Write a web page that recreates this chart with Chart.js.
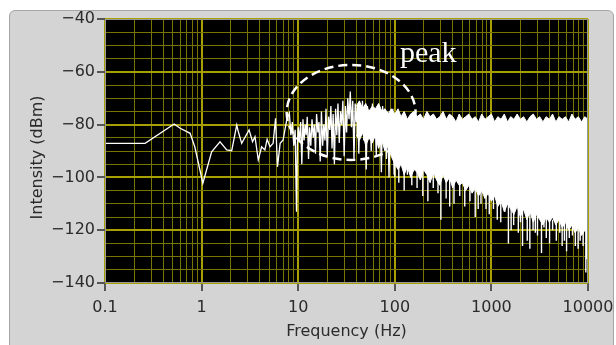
<!DOCTYPE html>
<html><head><meta charset="utf-8">
<script src="https://cdn.jsdelivr.net/npm/chart.js@4.4.0/dist/chart.umd.min.js"></script>
<style>
html,body{margin:0;padding:0;background:#fff;}
#wrap{position:relative;width:616px;height:345px;overflow:hidden;}
#panel{position:absolute;left:9px;top:10px;width:605px;height:400px;background:#d4d4d4;border:1px solid #a6a6a6;border-radius:6px;box-sizing:border-box;}
canvas{position:absolute;left:0;top:0;}
</style></head><body>
<div id="wrap"><div id="panel"></div><canvas id="c" width="616" height="345"></canvas></div>
<script>
// ---- data ----
const lowFreq = [0.1,0.26,0.52,0.6,0.76,0.85,1.03,1.27,1.55,1.82,2.05,2.31,2.4,2.6,3.1,3.37,3.57,3.86,4.18,4.52,4.77,5.1,5.5,5.83,6.1,6.5,6.98,7.6,8.1,
  8.4,8.7,9.0,9.3,9.6,9.8,10.0,10.3,10.6,10.9,11.2,11.5,11.8,12.1,12.4,12.8,13.1,13.5,13.9,14.3,14.7,15.1,15.5,16.0,16.4,16.9,17.4,17.9,18.4,18.9,19.4,
  20.0,20.6,21.2,21.8,22.4,23.0,23.7,24.4,25.1,25.8,26.6,27.4,28.2,29.0,29.9,30.8,31.7,32.6,33.6,34.6,35.6,36.7,37.8,38.9,40.0,41.2,42.4,43.7,45.0,46.3,
  47.7,49.1,50.6,52.1,53.7,55.3,57.0,58.7,60.5,62.4,64.3,66.3,68.3,70.4,72.6,74.8,77.1,79.5,82,84.5,87.1,89.8,92.6,95.4,98.4,101];
const lowVal = [-87.1,-87.1,-79.8,-81.4,-83.3,-88.4,-102.2,-90.3,-86.5,-89.6,-89.9,-80.2,-82.7,-87.1,-82,-86.5,-84.6,-93.4,-88.4,-89.6,-85.6,-88.4,-87.1,-77.6,-96,-87.1,-85.8,-78.3,-75.7,
  -84,-79,-88,-82,-113,-88,-81,-86,-79,-95,-78,-86,-80,-84,-77,-93,-81,-88,-78,-85,-80,-91,-76,-83,-79,-94,-75,-88,-80,-86,-74,
  -92,-77,-82,-73,-89,-76,-95,-74,-84,-72,-87,-75,-80,-71,-92,-73,-83,-70,-78,-67.5,-81,-71,-93,-72,-79,-73,-91,-72,-84,-71,
  -86,-74,-97,-73,-82,-75,-90,-72,-85,-76,-92,-74,-83,-75,-98,-73,-87,-76,-93,-75,-100,-77,-88,-74,-99,-80];

const bandFreq = [40,43,46.4,50,54,58.5,63,68,73.5,79,85.5,92,100,108,116,125,135,146,158,170,184,198,215,232,251,271,292,316,341,368,
  398,430,464,501,541,584,631,681,736,794,858,926,1000,1080,1166,1259,1360,1468,1585,1711,1848,1995,2154,2326,2512,2712,2929,3162,3415,3687,
  3981,4299,4642,5012,5412,5843,6310,6813,7356,7943,8577,9261,10000];
const bandTop = [-73,-71,-74,-72,-75,-73,-74,-72,-75,-74,
  -76,-74,-76,-74,-77,-75,-78,-76,-75,-77,
  -76,-78,-75,-77,-76,-78,-77,-75,-78,-76,
  -77,-79,-76,-78,-77,-76,-78,-77,-79,-76,
  -78,-77,-76,-79,-77,-78,-76,-79,-77,-78,
  -76,-78,-77,-79,-77,-76,-78,-77,-79,-77,
  -78,-76,-79,-77,-78,-77,-79,-76,-78,-77,
  -79,-77,-78];
const bandBottom = [-84,-86,-83,-88,-85,-87,-84,-89,-86,-90,-88,-92,-95,
  -97,-95,-99,-96,-100,-97,-98,-101,-97,
  -99,-102,-98,-101,-103,-99,-102,-100,-104,-101,-103,
  -102,-105,-103,-106,-104,-107,-105,-108,-106,
  -109,-107,-111,-109,-113,-110,-112,-114,-111,
  -115,-112,-116,-113,-117,-114,-116,-118,-115,
  -117,-115,-118,-116,-119,-117,-120,-118,-121,-119,-122,-120,-123];

const spikeFreq = [100,110,125,135,150,170,195,220,250,280,300,340,370,410,470,530,600,680,730,780,880,950,
  1050,1150,1250,1380,1500,1600,1700,1900,2000,2100,2350,2500,2700,2850,3000,3300,3500,3700,
  4000,4300,4700,5100,5400,5700,6000,6400,6900,7400,7900,8300,8900,9500,9800];
const spikeTop = [-93,-94,-95,-95,-96,-96,-97,-98,-98,-99,-99,-100,-100,-100,-101,-103,-103,-104,-104,-105,-105,-106,
  -107,-107,-108,-109,-110,-110,-111,-112,-112,-112,-113,-113,-113,-114,-114,-115,-115,-115,
  -116,-116,-116,-116,-117,-117,-117,-118,-118,-119,-119,-120,-120,-121,-121];
const spikeDepth = [-100,-102,-105,-99,-103,-104,-107,-109,-104,-106,-116,-108,-111,-110,-107,-111,-109,-115,-112,-110,-112,-114,
  -112,-116,-117,-113,-125,-120,-118,-121,-117,-126,-124,-127,-120,-121,-122,-128.6,-119,-123,
  -125,-120,-124,-121,-126,-124,-128,-123,-122,-126,-127,-124,-126,-136,-131];

const xTickValues = [0.1,1,10,100,1000,10000];
const xTickLabels = ['0.1','1','10','100','1000','10000'];
const yTickValues = [-140,-120,-100,-80,-60,-40];
const yTickLabels = ['\u2212140','\u2212120','\u2212100','\u221280','\u221260','\u221240'];
const xTitle = 'Frequency (Hz)';
const yTitle = 'Intensity (dBm)';

const peakNote = {text:'peak', fLeft:7.6, fRight:164, dbTop:-57.4, dbBottom:-93.4, textF:113, textDb:-56.3};

// ---- build structures ----
const pts = (xs, ys) => xs.map((x,i)=>({x, y:ys[i]}));
const spikeData = [];
spikeFreq.forEach((f,i)=>{ spikeData.push({x:f,y:spikeTop[i]},{x:f,y:spikeDepth[i]},{x:f,y:null}); });

const xGrid = [];
for (let d=0; d<xTickValues.length; d++) {
  const base = xTickValues[d];
  xGrid.push(base);
  if (d < xTickValues.length-1) for (let m=2; m<=9; m++) xGrid.push(+(base*m).toPrecision(6));
}
const yGrid = [];
for (let v=yTickValues[0]; v<=yTickValues[yTickValues.length-1]; v+=5) yGrid.push(v);

const isXMajor = v => xTickValues.some(t => Math.abs(t - v) < t*1e-6);
const isYMajor = v => yTickValues.includes(v);

const minorGrid = 'rgb(120,116,0)';
const majorGrid = 'rgb(168,160,0)';
const labelColor = '#2b2b2b';
const font16 = {family:'DejaVu Sans', size:16};

const bgPlugin = {id:'bg', beforeDraw(chart){
  const {ctx, chartArea:a} = chart;
  ctx.save(); ctx.fillStyle = '#000'; ctx.fillRect(a.left, a.top, a.right-a.left, a.bottom-a.top); ctx.restore();
}};
const peakPlugin = {id:'peak', afterDatasetsDraw(chart){
  const {ctx, chartArea:a, scales:{x, y}} = chart;
  ctx.save();
  ctx.strokeStyle = '#9a9a9a'; ctx.lineWidth = 1;
  ctx.strokeRect(a.left+0.5, a.top+0.5, a.right-a.left-1, a.bottom-a.top-1);
  const l = x.getPixelForValue(peakNote.fLeft), r = x.getPixelForValue(peakNote.fRight);
  const t = y.getPixelForValue(peakNote.dbTop), b = y.getPixelForValue(peakNote.dbBottom);
  ctx.strokeStyle = '#fff'; ctx.lineWidth = 2.5; ctx.setLineDash([9,5]);
  ctx.beginPath(); ctx.ellipse((l+r)/2, (t+b)/2, (r-l)/2, (b-t)/2, 0, 0, Math.PI*2); ctx.stroke();
  ctx.setLineDash([]);
  ctx.font = '30px "Liberation Serif"'; ctx.fillStyle = '#fff'; ctx.textBaseline = 'alphabetic'; ctx.textAlign = 'left';
  ctx.fillText(peakNote.text, x.getPixelForValue(peakNote.textF), y.getPixelForValue(peakNote.textDb));
  ctx.restore();
}, afterDraw(chart){
  const {ctx, chartArea:a} = chart;
  ctx.save();
  ctx.translate(38, (a.top + a.bottom)/2 + 6.5);
  ctx.rotate(-Math.PI/2);
  ctx.font = '16px "DejaVu Sans"'; ctx.fillStyle = labelColor; ctx.textAlign = 'center'; ctx.textBaseline = 'middle';
  ctx.fillText(yTitle, 0, 0);
  ctx.restore();
}};

new Chart(document.getElementById('c'), {
  type: 'line',
  data: { datasets: [
    {data: pts(lowFreq, lowVal), borderColor:'#fff', borderWidth:1.3, pointRadius:0, tension:0, fill:false},
    {data: pts(bandFreq, bandBottom), borderColor:'#fff', borderWidth:1, pointRadius:0, tension:0, fill:false},
    {data: pts(bandFreq, bandTop), borderColor:'#fff', borderWidth:1, pointRadius:0, tension:0, fill:'-1', backgroundColor:'#fff'},
    {data: spikeData, borderColor:'#fff', borderWidth:1.4, pointRadius:0, tension:0, fill:false, spanGaps:false}
  ]},
  options: {
    responsive:false, animation:false, devicePixelRatio:1,
    layout: {padding:{left:0, right:28, top:19, bottom:0}},
    plugins: {legend:{display:false}, tooltip:{enabled:false}},
    scales: {
      x: {type:'logarithmic', min:0.1, max:10000, offset:false,
        afterBuildTicks: s => { s.ticks = xGrid.map(v=>({value:v})); },
        afterFit: s => { s.height = 62; s.paddingLeft = 0; s.paddingRight = 0; },
        ticks: {autoSkip:false, maxRotation:0, minRotation:0, padding:7, color:labelColor, font:font16,
          callback: v => { const i = xTickValues.findIndex(t => Math.abs(t-v) < t*1e-6); return i>=0 ? xTickLabels[i] : ''; }},
        grid: {color: c => isXMajor(c.tick.value) ? majorGrid : minorGrid,
               lineWidth: c => isXMajor(c.tick.value) ? 2 : 1,
               tickLength: 8, tickColor: c => isXMajor(c.tick.value) ? '#555' : 'rgba(0,0,0,0)'},
        border: {display:false},
        title: {display:true, text:xTitle, color:labelColor, font:font16, padding:{top:0, bottom:4}}
      },
      y: {type:'linear', min:-140, max:-40,
        afterBuildTicks: s => { s.ticks = yGrid.map(v=>({value:v})); },
        afterFit: s => { s.width = 105; s.paddingTop = 0; s.paddingBottom = 0; },
        ticks: {autoSkip:false, padding:2, color:labelColor, font:font16,
          callback: v => { const i = yTickValues.indexOf(v); return i>=0 ? yTickLabels[i] : ''; }},
        grid: {color: c => isYMajor(c.tick.value) ? majorGrid : minorGrid,
               lineWidth: c => isYMajor(c.tick.value) ? 2 : 1,
               tickLength: 8, tickColor: c => isYMajor(c.tick.value) ? '#555' : 'rgba(0,0,0,0)'},
        border: {display:false},
        title: {display:false}
      }
    }
  },
  plugins: [bgPlugin, peakPlugin]
});
</script>
</body></html>
